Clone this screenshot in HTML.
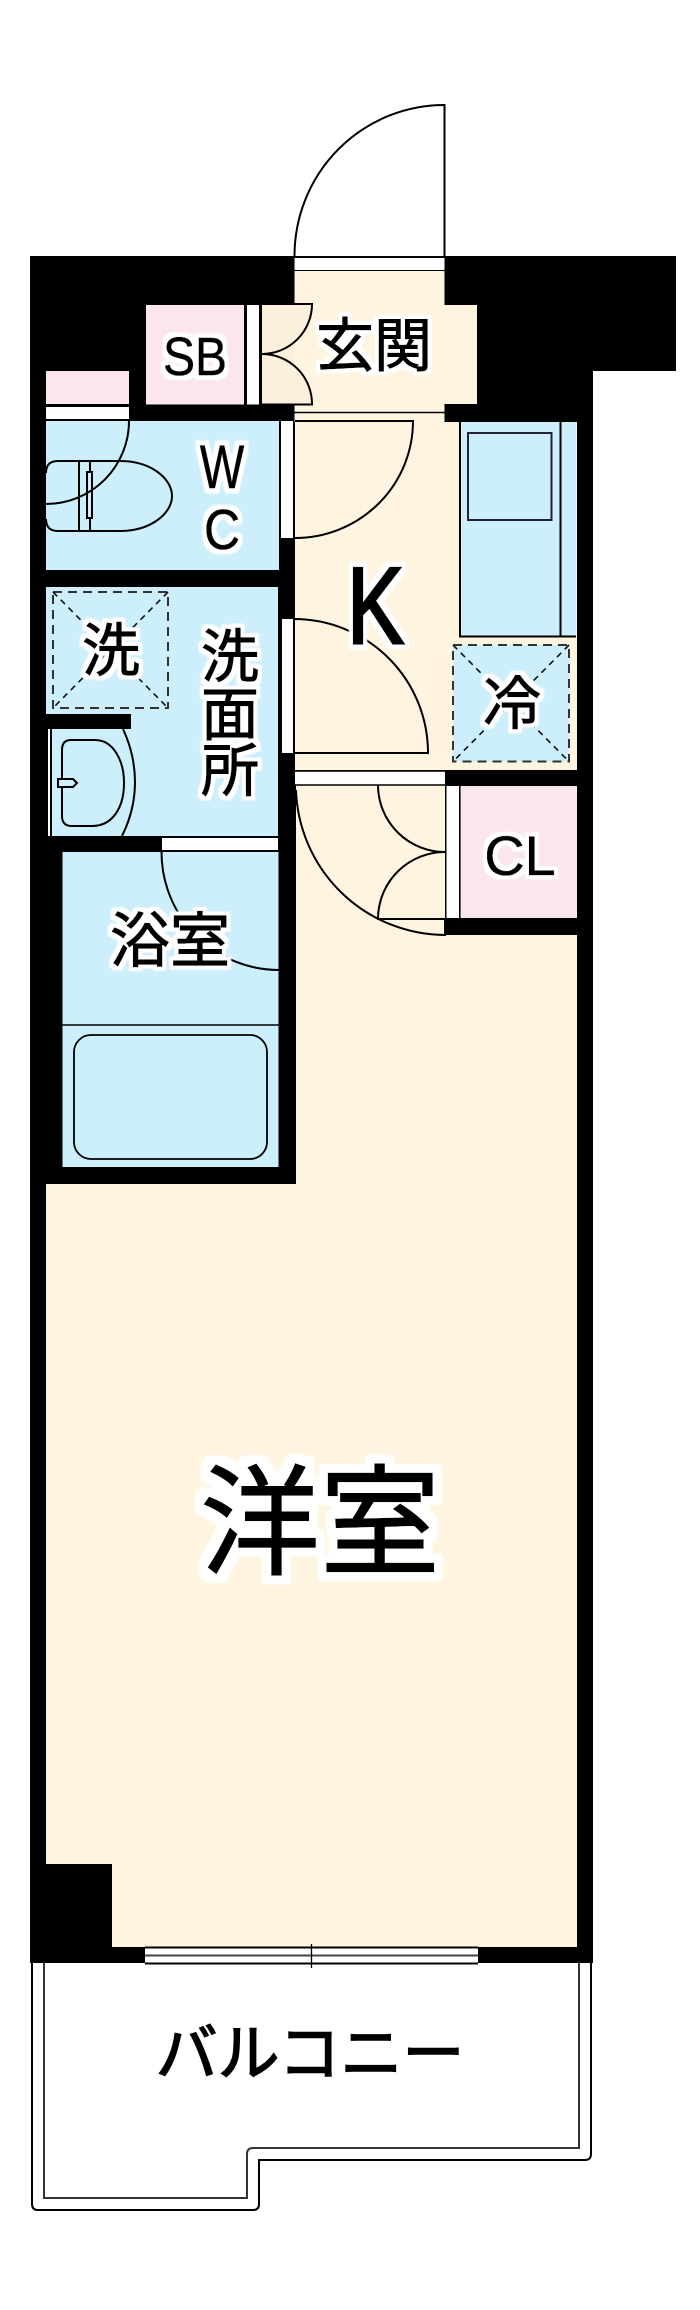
<!DOCTYPE html>
<html lang="ja">
<head>
<meta charset="utf-8">
<title>間取り図</title>
<style>
html,body{margin:0;padding:0;background:#fff}
svg{display:block}
text{font-family:"Liberation Sans","Noto Sans CJK JP",sans-serif;fill:#000;stroke:#000;text-anchor:middle}
.l{fill:none;stroke:#000;stroke-width:2}
.t{fill:none;stroke:#000;stroke-width:1.5}
.d{fill:none;stroke:#333;stroke-width:2;stroke-dasharray:9 6}
.x{fill:none;stroke:#111;stroke-width:1.6;stroke-dasharray:6 5}
</style>
</head>
<body>
<svg xmlns="http://www.w3.org/2000/svg" width="700" height="2310" viewBox="0 0 700 2310">
<defs>
<filter id="h" x="-30%" y="-30%" width="160%" height="160%">
<feMorphology in="SourceAlpha" operator="dilate" radius="4" result="m"/>
<feGaussianBlur in="m" stdDeviation="0.6" result="b"/>
<feFlood flood-color="#fff"/>
<feComposite in2="b" operator="in" result="w"/>
<feMerge><feMergeNode in="w"/><feMergeNode in="SourceGraphic"/></feMerge>
</filter>
<filter id="H" x="-20%" y="-20%" width="140%" height="140%">
<feMorphology in="SourceAlpha" operator="dilate" radius="9" result="m"/>
<feGaussianBlur in="m" stdDeviation="1" result="b"/>
<feFlood flood-color="#fff"/>
<feComposite in2="b" operator="in" result="w"/>
<feMerge><feMergeNode in="w"/><feMergeNode in="SourceGraphic"/></feMerge>
</filter>
</defs>
<rect width="700" height="2310" fill="#fff"/>

<!-- entrance door -->
<path class="l" d="M444.5 256V105A150 151 0 0 0 294.5 256"/>

<!-- balcony -->
<path class="l" d="M32 1963V2204Q32 2210 38 2210H253Q259 2210 259 2204V2160H585Q591 2160 591 2154V1963"/>
<path d="M44 1963V2198H247V2154Q247 2148 253 2148H579V1963" fill="none" stroke="#333" stroke-width="2"/>

<!-- building mass -->
<path fill="#000" d="M30 256H676V371H593V1963H30Z"/>

<!-- entrance -->
<rect x="294.5" y="258" width="150" height="12" fill="#fff"/>
<path fill="#fef4df" d="M294.5 271H444.5V305H477V404H444.5V422H577V770H295V422H294.5Z"/>
<path class="t" d="M294.5 412.5H444.5"/>
<rect x="444.5" y="404" width="15" height="18" fill="#000"/>

<!-- shoe box -->
<rect x="146" y="305" width="98" height="99.5" fill="#fbe5ef"/>
<rect x="247" y="305" width="12" height="99.5" fill="#fff"/>
<rect x="262" y="304" width="32.5" height="100.5" fill="#faf0dc"/>
<path fill="#faf0dc" stroke="#000" stroke-width="2" d="M262 304H312A50 50 0 0 1 262 354A50 50 0 0 1 312 404.5H262"/>

<!-- upper left pink -->
<rect x="46" y="371" width="83" height="33" fill="#fbe5ef"/>
<rect x="46" y="407" width="83" height="12" fill="#fff"/>

<!-- WC -->
<rect x="46" y="421" width="233" height="149" fill="#cdeefb"/>
<rect x="281" y="421" width="12" height="117" fill="#fff"/>
<path class="l" d="M295 421H413A118 117 0 0 1 295 538"/>
<path class="l" d="M46 473Q46 461 58 461H120C150 461 172 478 172 496C172 514 150 531 120 531H58Q46 531 46 519"/>
<path class="l" d="M79 461V531M90 461V531"/>
<rect x="87" y="472" width="5" height="46" fill="#cdeefb" stroke="#000" stroke-width="2"/>
<path class="l" d="M129 421A83 83 0 0 1 46 504"/>

<!-- washroom -->
<rect x="46" y="587" width="232" height="249" fill="#cdeefb"/>
<rect x="282" y="619" width="11" height="134" fill="#fff"/>
<rect x="53" y="592" width="115" height="116" class="d"/>
<path class="x" d="M53 592L168 708M168 592L53 708"/>
<rect x="46" y="714" width="85" height="15" fill="#000"/>
<rect x="46" y="729" width="2" height="107" fill="#000"/>
<rect x="48" y="729" width="3" height="107" fill="#fff"/>
<path class="l" d="M51 729V836M123 729Q135 755 135 782Q135 810 122 836"/>
<path class="l" d="M71 740H95C113 740 124 760 124 783C124 807 113 826 92 826H72Q62 826 62 816V750Q62 740 71 740Z"/>
<path d="M58 779H73L77 783L73 787H58Z" fill="#cdeefb" stroke="#000" stroke-width="2"/>

<!-- bathroom -->
<rect x="162" y="838" width="116" height="12" fill="#fff"/>
<rect x="62.5" y="852" width="216" height="315" fill="#cdeefb"/>
<path class="t" d="M62.5 1025H278.5"/>
<rect x="74" y="1035" width="193" height="124" rx="17" fill="#cdeefb" stroke="#000" stroke-width="1.8"/>
<path class="l" d="M161.5 852A117.5 118 0 0 0 279 970"/>

<!-- wash door -->
<path class="l" d="M294 619A134 134 0 0 1 428 753H294Z"/>

<!-- kitchen unit -->
<rect x="460" y="422" width="116" height="215" fill="#cdeefb"/>
<path class="l" d="M460 422V636.5H576M560.5 422V636.5"/>
<rect x="468" y="433" width="83.5" height="87" fill="none" stroke="#223" stroke-width="2"/>

<!-- fridge -->
<rect x="453" y="645" width="116" height="116.5" fill="#cdeefb"/>
<rect x="453" y="645" width="116" height="116.5" class="d"/>
<path class="x" d="M453 645L569 761.5M569 645L453 761.5"/>

<!-- main room -->
<rect x="296" y="785" width="281" height="400" fill="#fef4df"/>
<rect x="46" y="1184" width="531" height="763" fill="#fef4df"/>
<rect x="30" y="1864" width="82" height="99" fill="#000"/>
<rect x="295" y="771" width="150" height="14" fill="#fff"/>
<path class="t" d="M295 771H445M295 785H445"/>

<!-- closet -->
<rect x="445" y="770" width="148" height="16" fill="#000"/>
<rect x="445" y="918" width="148" height="17" fill="#000"/>
<rect x="445" y="786" width="15.7" height="132" fill="#000"/>
<rect x="446.5" y="786" width="12.5" height="132" fill="#fff"/>
<rect x="460.7" y="786" width="116.3" height="132" fill="#fbe5ef"/>
<path class="l" d="M296 790A150 150 0 0 0 445 935V918"/>
<path class="l" d="M378 785A67 67 0 0 0 445 852A67 67 0 0 0 378 919H445"/>

<!-- window -->
<rect x="145" y="1947" width="333" height="17" fill="#fff"/>
<path class="l" d="M145 1947.5H478M145 1963.5H478"/>
<path d="M145 1955.5H478" stroke="#444" stroke-width="2"/>
<path d="M311.5 1944V1968" stroke="#000" stroke-width="1.3"/>

<!-- labels -->
<text x="0" y="0" font-size="48" stroke-width="0.6" filter="url(#h)" transform="translate(195 375) scale(1 1.12)">SB</text>
<text x="374" y="366" font-size="58" stroke-width="1" filter="url(#h)">玄関</text>
<text x="0" y="0" font-size="47" stroke-width="0.6" filter="url(#h)" transform="translate(222 488) scale(1 1.3)">W</text>
<text x="0" y="0" font-size="50" stroke-width="0.6" filter="url(#h)" transform="translate(222 549) scale(1 1.13)">C</text>
<text x="0" y="0" font-size="85" stroke-width="2.4" filter="url(#h)" transform="translate(375.5 643) scale(1 1.28)">K</text>
<text x="111" y="671" font-size="58" stroke-width="1" filter="url(#h)">洗</text>
<text x="230" y="677" font-size="58" stroke-width="1" filter="url(#h)">洗</text>
<text x="230" y="735" font-size="58" stroke-width="1" filter="url(#h)">面</text>
<text x="230" y="791" font-size="58" stroke-width="1" filter="url(#h)">所</text>
<text x="512" y="724" font-size="58" stroke-width="1" filter="url(#h)">冷</text>
<text x="520" y="875" font-size="56" stroke-width="0.6" filter="url(#h)">CL</text>
<text x="170" y="962" font-size="60" stroke-width="1" filter="url(#h)">浴室</text>
<text x="320" y="1565" font-size="120" stroke-width="1.2" filter="url(#H)">洋室</text>
<text x="310" y="2075" font-size="62" stroke-width="1.5">バルコニー</text>
</svg>
</body>
</html>
